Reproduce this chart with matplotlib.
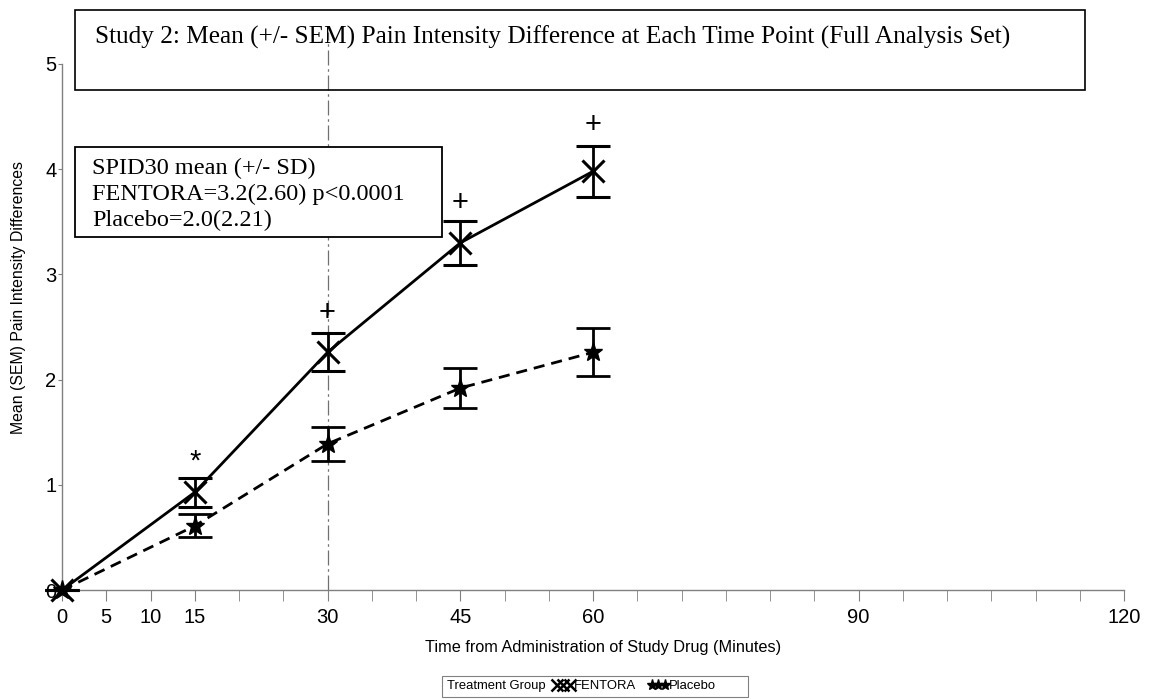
import matplotlib.pyplot as plt
from matplotlib.lines import Line2D
from matplotlib.patches import Rectangle
from matplotlib.ticker import MultipleLocator

# data
times = [0, 15, 30, 45, 60]
fentora_mean = [0.0, 0.93, 2.26, 3.30, 3.98]
fentora_sem = [0.0, 0.14, 0.18, 0.21, 0.24]
placebo_mean = [0.0, 0.61, 1.39, 1.92, 2.26]
placebo_sem = [0.0, 0.11, 0.16, 0.19, 0.23]

sig_times = [15, 30, 45, 60]
sig_marks = ['*', '+', '+', '+']
sig_y = [1.22, 2.63, 3.68, 4.42]

x_ticks = [0, 5, 10, 15, 30, 45, 60, 90, 120]
y_ticks = [0, 1, 2, 3, 4, 5]

title_text = 'Study 2: Mean (+/- SEM) Pain Intensity Difference at Each Time Point (Full Analysis Set)'
inset_text = 'SPID30 mean (+/- SD)\nFENTORA=3.2(2.60) p<0.0001\nPlacebo=2.0(2.21)'

fig = plt.figure(figsize=(11.57, 7), dpi=100)
ax = fig.add_axes([0.0536, 0.157, 0.918, 0.7516])

serif = ['Liberation Serif', 'DejaVu Serif']
sans = ['Liberation Sans', 'DejaVu Sans']

# reference line at 30 min
ax.plot([30, 30], [0, 5.3], color='#707070', lw=0.9, ls=(0, (12, 3, 2, 3)),
        clip_on=False, zorder=1)

ax.errorbar(times, fentora_mean, yerr=fentora_sem, color='black', lw=2,
            marker='x', ms=16, mew=2.2, capsize=12, capthick=2, elinewidth=2,
            ls='-', clip_on=False, zorder=3)
ax.errorbar(times, placebo_mean, yerr=placebo_sem, color='black', lw=2,
            marker='*', ms=14, capsize=12, capthick=2, elinewidth=2,
            ls=(0, (4, 2.5)), clip_on=False, zorder=3)

for t, m, y in zip(sig_times, sig_marks, sig_y):
    ax.text(t, y, m, ha='center', va='center', fontsize=21, family=sans)

ax.set_xlim(0, 120)
ax.set_ylim(0, 5)
ax.set_xticks(x_ticks)
ax.xaxis.set_minor_locator(MultipleLocator(5))
ax.set_yticks(y_ticks)

for s in ['top', 'right']:
    ax.spines[s].set_visible(False)
for s in ['left', 'bottom']:
    ax.spines[s].set_color('#808080')
    ax.spines[s].set_linewidth(1)

ax.tick_params(axis='x', which='both', length=8, color='#808080', labelsize=14.5,
               pad=5)
ax.tick_params(axis='y', which='both', length=3, color='#808080', labelsize=14.5,
               pad=1)
for lab in ax.get_xticklabels() + ax.get_yticklabels():
    lab.set_family(sans)

ax.set_xlabel('Time from Administration of Study Drug (Minutes)', fontsize=11.7,
              family=sans)
ax.xaxis.set_label_coords(0.509, -0.095)
ax.set_ylabel('Mean (SEM) Pain Intensity Differences', fontsize=11.4,
              family=sans)
ax.yaxis.set_label_coords(-0.034, 0.557)

# title box
fig.text(0.0821, 0.947, title_text, fontsize=18.2, family=serif, ha='left',
         va='center')
fig.add_artist(Rectangle((0.0648, 0.871), 0.873, 0.115, fill=False,
                         lw=1.2, color='black', transform=fig.transFigure))

# inset stats box
fig.add_artist(Rectangle((0.0648, 0.6614), 0.317, 0.1286, fc='white',
                         ec='black', lw=1.3, transform=fig.transFigure,
                         zorder=4))
fig.text(0.0795, 0.722, inset_text, fontsize=17.5, family=serif, ha='left',
         va='center', linespacing=1.28, zorder=5)

# legend: frame + group caption + marker entries
fig.add_artist(Rectangle((0.382, 0.004), 0.2645, 0.031, fill=False,
                         ec='#808080', lw=0.8, transform=fig.transFigure))
fig.text(0.3865, 0.0195, 'Treatment Group', fontsize=9.4, family=sans,
         ha='left', va='center')
handles = [Line2D([], [], ls='none', marker='x', color='black', ms=9, mew=1.8),
           Line2D([], [], ls='none', marker='*', color='black', ms=8)]
labels = ['FENTORA', 'Placebo']
fig.legend(handles, labels, loc='center left', bbox_to_anchor=(0.478, 0.0195),
           ncol=2, numpoints=3, handlelength=1.6, handletextpad=0.0,
           columnspacing=0.9, frameon=False, borderpad=0, borderaxespad=0,
           prop={'family': sans, 'size': 9.4})

fig.savefig('out.png', dpi=100)
